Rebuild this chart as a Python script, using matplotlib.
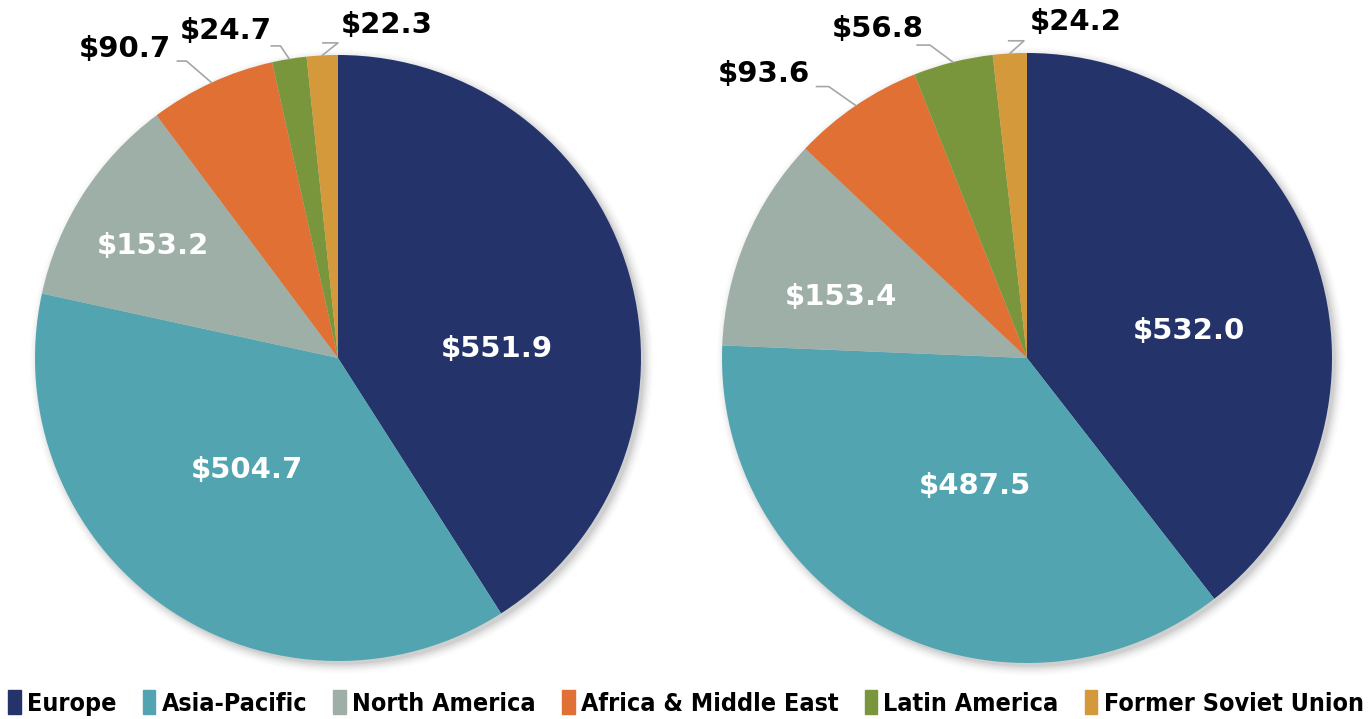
import matplotlib
matplotlib.use("Agg")
import matplotlib.pyplot as plt
import matplotlib.patches as mpatches
import numpy as np

regions = ["Europe", "Asia-Pacific", "North America", "Africa & Middle East",
           "Latin America", "Former Soviet Union"]
left_values = [551.9, 504.7, 153.2, 90.7, 24.7, 22.3]
right_values = [532.0, 487.5, 153.4, 93.6, 56.8, 24.2]
colors = ["#243369", "#52A5B0", "#9EAFA8", "#E07034", "#7A963C", "#D4993A"]

FONT = ["DejaVu Sans"]
plt.rcParams['font.family'] = FONT

W, H = 1372, 719
fig = plt.figure(figsize=(W / 100, H / 100), dpi=100)

def px_axes(cx, cy, r):
    return fig.add_axes([(cx - r) / W, (H - cy - r) / H, 2 * r / W, 2 * r / H])

inner_pos = {
    0: [(0.525, 0.03), (0.53, 0.09)],
    1: [(-0.30, -0.37), (-0.17, -0.42)],
    2: [(-0.61, 0.37), (-0.61, 0.20)],
}
outer = [
    {3: ((-0.55, 1.02), (-0.53, 0.98), (-0.50, 0.98), 'right'),
     4: ((-0.37, 1.08), (-0.22, 1.03), (-0.19, 1.03), 'center'),
     5: ((0.01, 1.10), (-0.05, 1.04), (0.00, 1.04), 'left')},
    {3: ((-0.71, 0.93), (-0.69, 0.89), (-0.65, 0.89), 'right'),
     4: ((-0.49, 1.08), (-0.36, 1.026), (-0.318, 1.026), 'center'),
     5: ((0.01, 1.10), (-0.06, 1.04), (-0.01, 1.04), 'left')},
]

pies = [(338, 358, 303, left_values), (1027, 358, 305, right_values)]
for k, (cx, cy, r, vals) in enumerate(pies):
    ax = px_axes(cx, cy, r)
    for i, a in enumerate(np.linspace(0.05, 0.012, 6)):
        c = mpatches.Circle((0.012, -0.012), 1.0 + 0.006 * i, color='black',
                            alpha=a, lw=0, zorder=0, clip_on=False)
        ax.add_patch(c)
    wedges, _ = ax.pie(vals, colors=colors, startangle=90, counterclock=False,
                       radius=1.0, wedgeprops=dict(linewidth=0))
    for w in wedges:
        w.set_zorder(2)
    ax.set_xlim(-1, 1)
    ax.set_ylim(-1, 1)
    ax.set_aspect('equal')
    ax.axis('off')
    for i in range(3):
        x, y = inner_pos[i][k]
        ax.text(x, y, f"${vals[i]:.1f}", color='white', fontsize=21,
                fontweight='bold', ha='center', va='center', zorder=5)
    for i, (tpos, e1, e2, ha) in outer[k].items():
        w = wedges[i]
        ang = np.deg2rad((w.theta1 + w.theta2) / 2)
        px, py = np.cos(ang), np.sin(ang)
        ax.plot([px, e2[0], e1[0]], [py, e2[1], e1[1]], color='#A6A6A6',
                lw=1.2, zorder=3, clip_on=False)
        ax.text(tpos[0], tpos[1], f"${vals[i]:.1f}", color='black', fontsize=21,
                fontweight='bold', ha=ha, va='center', zorder=5, clip_on=False)

handles = [mpatches.Patch(color=c, label=l) for c, l in zip(colors, regions)]
fig.legend(handles=handles, loc='center', bbox_to_anchor=(0.5, (H - 703) / H),
           ncol=6, frameon=False, handlelength=0.5, handleheight=1.1,
           handletextpad=0.25, columnspacing=1.05,
           prop=dict(size=18, weight='bold', stretch='condensed'))

fig.savefig("out.png", dpi=100, facecolor='white')
